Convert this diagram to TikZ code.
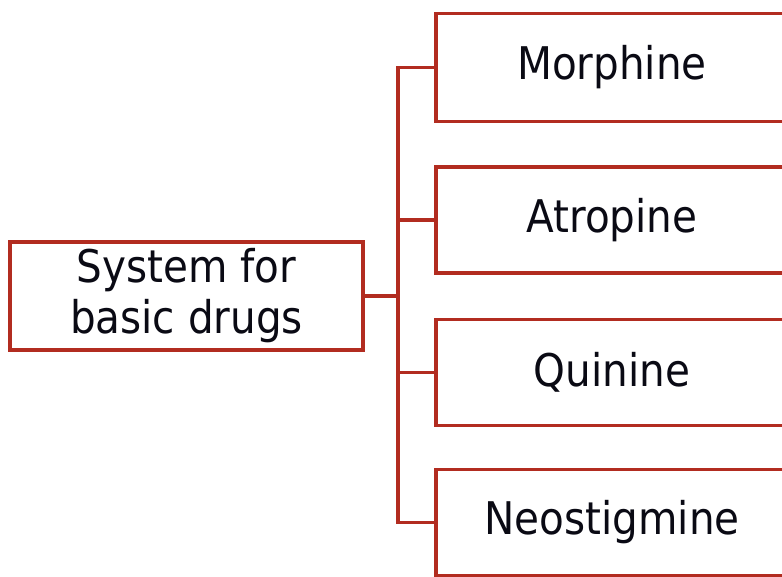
\documentclass[tikz,border=0pt]{standalone}
\usepackage{fontspec}
\setmainfont{DejaVu Sans Condensed}
\definecolor{boxred}{RGB}{178,44,32}
\definecolor{txt}{RGB}{10,10,20}
\begin{document}
\begin{tikzpicture}[x=1pt,y=1pt,
  box/.style={draw=boxred, line width=3.6pt, fill=white, inner sep=0pt,
    minimum height=108pt, align=center, text=txt,
    font=\fontsize{45}{51}\selectfont},
  conn/.style={draw=boxred, line width=3.6pt}]
\fill[white] (0,0) rectangle (782,-577);
\useasboundingbox (0,0) rectangle (782,-577);
\node[box, minimum width=353pt] (L) at (186.5,-296) {System for\\basic drugs};
\node[box, minimum width=352pt] (M) at (612,-67.5) {Morphine};
\node[box, minimum width=352pt, minimum height=106pt] (A) at (612,-220) {Atropine};
\node[box, minimum width=352pt, minimum height=106pt] (Q) at (612,-372.5) {Quinine};
\node[box, minimum width=352pt, minimum height=106pt] (N) at (612,-522.5) {Neostigmine};
\coordinate (t) at (398,-296);
\draw[conn] (L.east) -- (t);
\draw[conn] (t) |- (M.west);
\draw[conn] (t) |- (A.west);
\draw[conn] (t) |- (Q.west);
\draw[conn] (t) |- (N.west);
\end{tikzpicture}
\end{document}
